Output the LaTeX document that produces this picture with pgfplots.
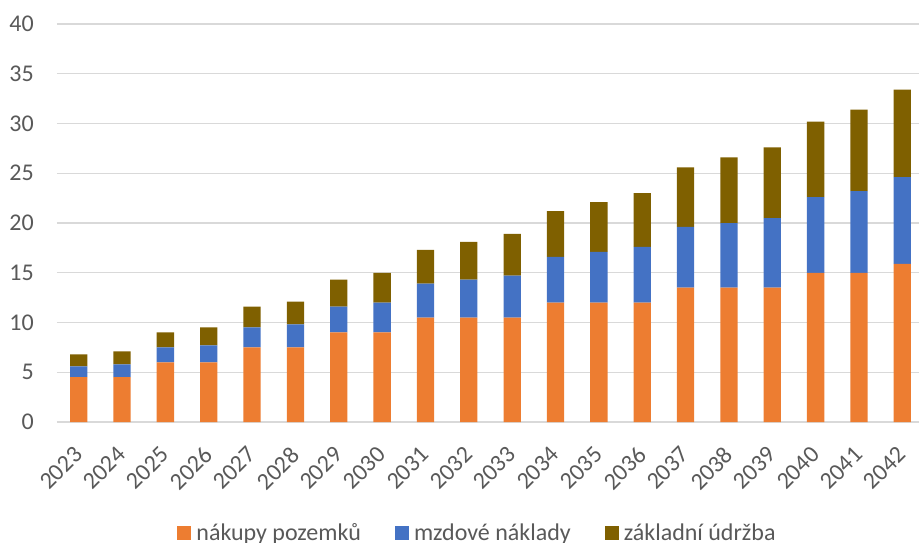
\documentclass[border=0pt]{standalone}
\usepackage{pgfplots}
\pgfplotsset{compat=1.18}
\usepackage{fontspec}
\setmainfont{Carlito}
\definecolor{cOr}{HTML}{ED7D31}
\definecolor{cBl}{HTML}{4472C4}
\definecolor{cBr}{HTML}{7F6000}
\definecolor{cGrid}{HTML}{D9D9D9}
\definecolor{cTxt}{HTML}{595959}
\begin{document}
\begin{tikzpicture}
\begin{axis}[
  at={(0pt,0pt)}, anchor=south west,
  width=867pt, height=398pt, scale only axis,
  ybar stacked, bar width=17.3pt,
  xmin=-0.5, xmax=19.5, ymin=0, ymax=40,
  ytick={0,5,...,40},
  xtick={0,...,19},
  xticklabels={2023,2024,2025,2026,2027,2028,2029,2030,2031,2032,2033,2034,2035,2036,2037,2038,2039,2040,2041,2042},
  ymajorgrids, grid style={cGrid, line width=1.3pt},
  axis line style={draw=none},
  major tick length=0pt,
  tick label style={font=\fontsize{24}{28}\selectfont, text=cTxt},
  /pgf/number format/assume math mode=true,
  yticklabel style={anchor=east, inner sep=0pt, xshift=-23pt},
  xticklabel style={xshift=-6pt, yshift=-23pt, rotate=45, anchor=north east, inner sep=0pt},
  legend style={at={(0.485,-0.279)}, anchor=center, legend columns=3, draw=none, fill=none,
    font=\fontsize{24}{28}\selectfont, text=cTxt,
    /tikz/every odd column/.append style={column sep=3pt},
    /tikz/every even column/.append style={column sep=32pt},
    inner sep=0pt},
  legend image code/.code={\fill[#1] (0pt,-7pt) rectangle (14pt,7pt);},
  legend cell align=left,
]
\addplot[fill=cOr, draw=none] coordinates {
(0,4.5) (1,4.5) (2,6.0) (3,6.0) (4,7.5) (5,7.5) (6,9.0) (7,9.0) (8,10.5) (9,10.5)
(10,10.5) (11,12.0) (12,12.0) (13,12.0) (14,13.5) (15,13.5) (16,13.5) (17,15.0) (18,15.0) (19,15.9)};
\addplot[fill=cBl, draw=none] coordinates {
(0,1.1) (1,1.3) (2,1.5) (3,1.7) (4,2.0) (5,2.3) (6,2.6) (7,3.0) (8,3.4) (9,3.8)
(10,4.2) (11,4.6) (12,5.1) (13,5.6) (14,6.1) (15,6.5) (16,7.0) (17,7.6) (18,8.2) (19,8.7)};
\addplot[fill=cBr, draw=none] coordinates {
(0,1.2) (1,1.3) (2,1.5) (3,1.8) (4,2.1) (5,2.3) (6,2.7) (7,3.0) (8,3.4) (9,3.8)
(10,4.2) (11,4.6) (12,5.0) (13,5.4) (14,6.0) (15,6.6) (16,7.1) (17,7.6) (18,8.2) (19,8.8)};
\legend{nákupy pozemků, mzdové náklady, základní údržba}
\end{axis}
\pgfresetboundingbox
\useasboundingbox (-57pt,-120pt) rectangle (862pt,422pt);
\end{tikzpicture}
\end{document}
